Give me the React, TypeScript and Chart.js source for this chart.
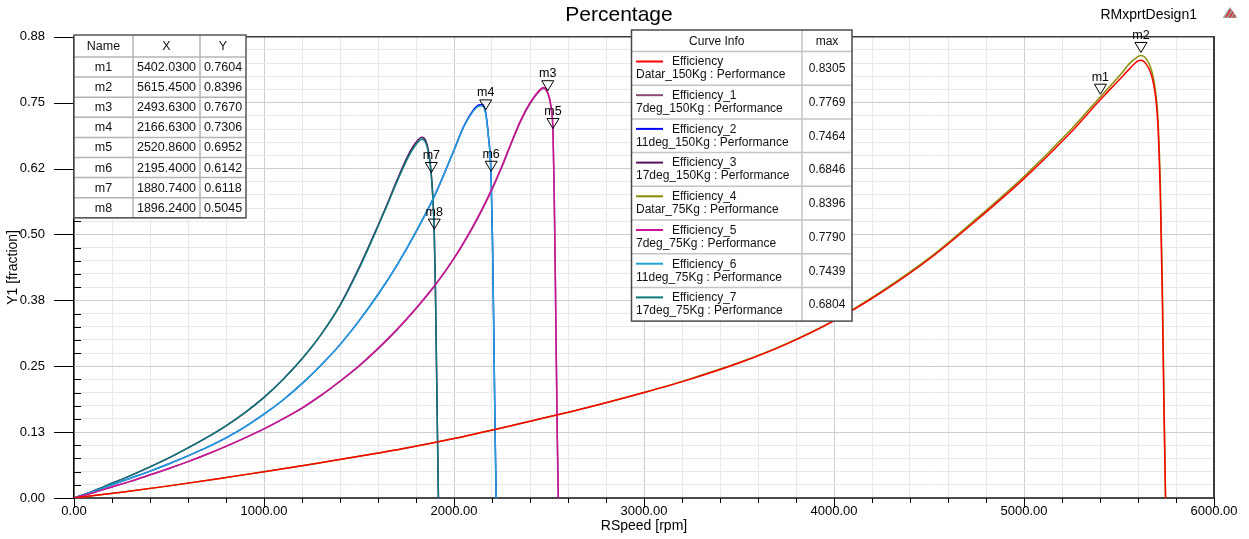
import React, { useEffect, useRef } from 'react';
import { Chart, registerables } from 'chart.js';

Chart.register(...registerables);

const FONT = '"Liberation Sans", Arial, Helvetica, sans-serif';

// ---- texts ----
const chartTitle = 'Percentage';
const designName = 'RMxprtDesign1';
const xAxisTitle = 'RSpeed [rpm]';
const yAxisTitle = 'Y1 [fraction]';
const xTickLabels = ['0.00', '1000.00', '2000.00', '3000.00', '4000.00', '5000.00', '6000.00'];
const yTickLabels = ['0.00', '0.13', '0.25', '0.38', '0.50', '0.62', '0.75', '0.88'];

// ---- series info ----
const seriesNames = ['Efficiency', 'Efficiency_1', 'Efficiency_2', 'Efficiency_3', 'Efficiency_4', 'Efficiency_5', 'Efficiency_6', 'Efficiency_7'];
const seriesSources = [
  'Datar_150Kg : Performance',
  '7deg_150Kg : Performance',
  '11deg_150Kg : Performance',
  '17deg_150Kg : Performance',
  'Datar_75Kg : Performance',
  '7deg_75Kg : Performance',
  '11deg_75Kg : Performance',
  '17deg_75Kg : Performance',
];
const seriesMax = [0.8305, 0.7769, 0.7464, 0.6846, 0.8396, 0.779, 0.7439, 0.6804];
const seriesColors = ['#ff0000', '#8c4a74', '#0000ff', '#5a1060', '#8b8b00', '#cc1199', '#20a4d4', '#0a7a7a'];
const seriesOrder = [1, 2, 2, 2, 2, 1, 1, 1];

// ---- data ----
const rpmDatar = [0, 250, 500, 750, 1000, 1250, 1500, 1750, 2000, 2250, 2500, 2750, 3000, 3250, 3500, 3750, 4000, 4250, 4500, 4750, 5000, 5250, 5400, 5500, 5560, 5600, 5615, 5640, 5670, 5690, 5705, 5718, 5728, 5736, 5745];
const effDatar150 = [0, 0.011, 0.023, 0.036, 0.05, 0.064, 0.079, 0.095, 0.113, 0.133, 0.154, 0.176, 0.2, 0.226, 0.256, 0.292, 0.336, 0.39, 0.453, 0.527, 0.606, 0.695, 0.755, 0.793, 0.816, 0.8295, 0.8305, 0.825, 0.803, 0.768, 0.705, 0.565, 0.38, 0.18, 0];
const effDatar75 = [0, 0.011, 0.023, 0.036, 0.05, 0.064, 0.079, 0.095, 0.113, 0.133, 0.154, 0.176, 0.2, 0.227, 0.257, 0.293, 0.337, 0.392, 0.455, 0.53, 0.61, 0.7, 0.7604, 0.8, 0.826, 0.8375, 0.8396, 0.835, 0.813, 0.778, 0.72, 0.59, 0.41, 0.21, 0];

const rpm7deg = [0, 100, 200, 300, 400, 500, 600, 700, 800, 900, 1000, 1100, 1200, 1300, 1400, 1500, 1600, 1700, 1800, 1900, 2000, 2100, 2150, 2200, 2250, 2300, 2350, 2400, 2440, 2470, 2494, 2510, 2521, 2527, 2533, 2539, 2544, 2549];
const eff7deg150 = [0, 0.01, 0.021, 0.032, 0.044, 0.056, 0.069, 0.083, 0.098, 0.114, 0.131, 0.15, 0.17, 0.194, 0.221, 0.25, 0.283, 0.319, 0.359, 0.403, 0.454, 0.514, 0.548, 0.585, 0.626, 0.671, 0.714, 0.748, 0.768, 0.7769, 0.767, 0.742, 0.6952, 0.585, 0.425, 0.245, 0.105, 0];
const eff7deg75 = [0, 0.01, 0.021, 0.032, 0.044, 0.056, 0.069, 0.083, 0.098, 0.114, 0.131, 0.15, 0.171, 0.195, 0.222, 0.251, 0.284, 0.32, 0.36, 0.404, 0.455, 0.516, 0.55, 0.587, 0.628, 0.673, 0.716, 0.75, 0.77, 0.779, 0.769, 0.745, 0.697, 0.59, 0.43, 0.25, 0.11, 0];

const rpm11deg = [0, 100, 200, 300, 400, 500, 600, 700, 800, 900, 1000, 1100, 1200, 1300, 1400, 1500, 1600, 1700, 1800, 1900, 2000, 2050, 2100, 2130, 2150, 2167, 2180, 2195, 2203, 2210, 2216, 2222];
const eff11deg150 = [0, 0.012, 0.025, 0.038, 0.051, 0.065, 0.08, 0.096, 0.114, 0.135, 0.159, 0.186, 0.217, 0.252, 0.291, 0.336, 0.386, 0.442, 0.505, 0.575, 0.66, 0.704, 0.735, 0.7455, 0.7464, 0.7306, 0.691, 0.6142, 0.481, 0.301, 0.131, 0];
const eff11deg75 = [0, 0.012, 0.025, 0.038, 0.051, 0.065, 0.08, 0.096, 0.114, 0.135, 0.159, 0.186, 0.217, 0.252, 0.291, 0.336, 0.386, 0.442, 0.505, 0.575, 0.66, 0.703, 0.733, 0.743, 0.7439, 0.728, 0.69, 0.612, 0.48, 0.3, 0.13, 0];

const rpm17deg = [0, 100, 200, 300, 400, 500, 600, 700, 800, 900, 1000, 1100, 1200, 1300, 1400, 1500, 1600, 1650, 1700, 1750, 1780, 1810, 1830, 1850, 1865, 1875, 1881, 1890, 1896, 1902, 1908, 1913, 1918];
const eff17deg150 = [0, 0.013, 0.028, 0.043, 0.059, 0.076, 0.095, 0.115, 0.137, 0.162, 0.191, 0.225, 0.264, 0.31, 0.366, 0.437, 0.517, 0.559, 0.603, 0.644, 0.664, 0.679, 0.6846, 0.679, 0.66, 0.636, 0.6118, 0.562, 0.5045, 0.401, 0.251, 0.121, 0];
const eff17deg75 = [0, 0.013, 0.028, 0.043, 0.059, 0.076, 0.095, 0.115, 0.137, 0.162, 0.191, 0.225, 0.264, 0.31, 0.365, 0.435, 0.515, 0.557, 0.6, 0.64, 0.66, 0.675, 0.6804, 0.675, 0.656, 0.632, 0.61, 0.56, 0.503, 0.4, 0.25, 0.12, 0];

// ---- markers ----
const markerNames = ['m1', 'm2', 'm3', 'm4', 'm5', 'm6', 'm7', 'm8'];
const markerX = [5402.03, 5615.45, 2493.63, 2166.63, 2520.86, 2195.4, 1880.74, 1896.24];
const markerY = [0.7604, 0.8396, 0.767, 0.7306, 0.6952, 0.6142, 0.6118, 0.5045];

const pts = (xs: number[], ys: number[]) => xs.map((x, i) => ({ x, y: ys[i] }));
const seriesData = [
  pts(rpmDatar, effDatar150),
  pts(rpm7deg, eff7deg150),
  pts(rpm11deg, eff11deg150),
  pts(rpm17deg, eff17deg150),
  pts(rpmDatar, effDatar75),
  pts(rpm7deg, eff7deg75),
  pts(rpm11deg, eff11deg75),
  pts(rpm17deg, eff17deg75),
];

const font = (size: number) => `${size}px ${FONT}`;

const overlayPlugin = {
  id: 'overlay',
  beforeDraw(chart: any) {
    const { ctx, width, height } = chart;
    ctx.save();
    ctx.fillStyle = '#ffffff';
    ctx.fillRect(0, 0, width, height);
    ctx.restore();
  },
  afterDraw(chart: any) {
    const { ctx, chartArea: a, scales } = chart;
    const xs = scales.x;
    const ys = scales.y;
    ctx.save();

    const line = (x1: number, y1: number, x2: number, y2: number) => {
      ctx.beginPath();
      ctx.moveTo(x1, y1);
      ctx.lineTo(x2, y2);
      ctx.stroke();
    };

    // frame (top and right)
    ctx.strokeStyle = '#3a3a3a';
    ctx.lineWidth = 1.5;
    line(a.left, a.top, a.right, a.top);
    ctx.lineWidth = 2;
    line(a.right, a.top - 0.75, a.right, a.bottom);

    // tick marks
    ctx.strokeStyle = '#000';
    ctx.lineWidth = 1;
    xs.ticks.forEach((t: any, i: number) => {
      const px = Math.round(xs.getPixelForValue(t.value)) + 0.5;
      line(px, a.bottom, px, a.bottom + (i % 5 === 0 ? 10 : 5));
    });
    ys.ticks.forEach((t: any, i: number) => {
      const py = Math.round(ys.getPixelForValue(t.value)) + 0.5;
      if (i % 5 === 0) line(54, py, a.left, py);
      else line(a.left, py, a.left + 7, py);
    });

    // markers
    ctx.font = font(12.5);
    ctx.fillStyle = '#000';
    ctx.textAlign = 'center';
    ctx.textBaseline = 'middle';
    markerNames.forEach((name, i) => {
      const px = xs.getPixelForValue(markerX[i]);
      const py = ys.getPixelForValue(markerY[i]) - 3;
      ctx.beginPath();
      ctx.moveTo(px, py);
      ctx.lineTo(px - 6, py - 10);
      ctx.lineTo(px + 6, py - 10);
      ctx.closePath();
      ctx.strokeStyle = '#000';
      ctx.lineWidth = 1;
      ctx.stroke();
      ctx.fillText(name, px, py - 17);
    });

    // marker table
    {
      const cols = [74, 133, 200, 246];
      const top = 35;
      const headH = 22;
      const rowH = 20.1;
      const bottom = top + headH + rowH * markerNames.length;
      ctx.fillStyle = '#fff';
      ctx.fillRect(cols[0], top, cols[3] - cols[0], bottom - top);
      ctx.strokeStyle = '#b4b4b4';
      ctx.lineWidth = 1.5;
      for (let r = 0; r <= markerNames.length; r++) {
        const y = top + headH + r * rowH;
        line(cols[0], y, cols[3], y);
      }
      line(cols[1], top, cols[1], bottom);
      line(cols[2], top, cols[2], bottom);
      ctx.strokeStyle = '#555';
      ctx.lineWidth = 1.5;
      ctx.strokeRect(cols[0], top, cols[3] - cols[0], bottom - top);
      ctx.fillStyle = '#111';
      ctx.font = font(12.5);
      ctx.textAlign = 'center';
      ctx.textBaseline = 'middle';
      const cx = [(cols[0] + cols[1]) / 2, (cols[1] + cols[2]) / 2, (cols[2] + cols[3]) / 2];
      ['Name', 'X', 'Y'].forEach((h, j) => ctx.fillText(h, cx[j], top + headH / 2 + 0.5));
      markerNames.forEach((n, i) => {
        const y = top + headH + rowH * i + rowH / 2 + 0.5;
        ctx.fillText(n, cx[0], y);
        ctx.fillText(markerX[i].toFixed(4), cx[1], y);
        ctx.fillText(markerY[i].toFixed(4), cx[2], y);
      });
    }

    // legend table
    {
      const left = 631.5;
      const split = 802;
      const right = 852;
      const top = 30;
      const headB = 51.5;
      const rowH = 33.7;
      const bottom = headB + rowH * seriesNames.length;
      ctx.fillStyle = '#fff';
      ctx.fillRect(left, top, right - left, bottom - top);
      ctx.strokeStyle = '#c4c4c4';
      ctx.lineWidth = 1.5;
      for (let r = 0; r < seriesNames.length; r++) {
        const y = headB + r * rowH;
        line(left, y, right, y);
      }
      line(split, top, split, bottom);
      ctx.strokeStyle = '#4a4a4a';
      ctx.lineWidth = 1.5;
      ctx.strokeRect(left, top, right - left, bottom - top);
      ctx.font = font(12);
      ctx.fillStyle = '#111';
      ctx.textBaseline = 'middle';
      ctx.textAlign = 'center';
      ctx.fillText('Curve Info', (left + split) / 2, (top + headB) / 2 + 1);
      ctx.fillText('max', (split + right) / 2, (top + headB) / 2 + 1);
      seriesNames.forEach((n, i) => {
        const rt = headB + rowH * i;
        ctx.strokeStyle = seriesColors[i];
        ctx.lineWidth = 2;
        line(636, rt + 10, 663, rt + 10);
        ctx.fillStyle = '#111';
        ctx.textAlign = 'left';
        ctx.fillText(n, 672, rt + 10.5);
        ctx.fillText(seriesSources[i], 636, rt + 23.5);
        ctx.textAlign = 'center';
        ctx.fillText(seriesMax[i].toFixed(4), (split + right) / 2, rt + 17.5);
      });
    }

    // titles
    ctx.fillStyle = '#000';
    ctx.textBaseline = 'alphabetic';
    ctx.textAlign = 'center';
    ctx.font = font(21);
    ctx.fillText(chartTitle, 619, 21);
    ctx.textAlign = 'left';
    ctx.font = font(14);
    ctx.fillText(designName, 1100.5, 18.5);

    // logo
    ctx.beginPath();
    ctx.moveTo(1230, 7);
    ctx.lineTo(1237.5, 18);
    ctx.lineTo(1222.5, 18);
    ctx.closePath();
    ctx.fillStyle = '#a0a0a0';
    ctx.fill();
    ctx.strokeStyle = '#d83030';
    ctx.lineWidth = 1.5;
    line(1226, 17, 1230.5, 9.5);
    line(1229.5, 17.5, 1233, 12);
    line(1233, 17.5, 1235, 15);

    ctx.restore();
  },
};

export default function App() {
  const ref = useRef<HTMLCanvasElement>(null);

  useEffect(() => {
    if (!ref.current) return;
    Chart.defaults.font.family = FONT;
    const chart = new Chart(ref.current, {
      type: 'line',
      data: {
        datasets: seriesData.map((d, i) => ({
          label: seriesNames[i],
          data: d,
          borderColor: seriesColors[i],
          backgroundColor: seriesColors[i],
          borderWidth: 1.5,
          pointRadius: 0,
          fill: false,
          cubicInterpolationMode: 'monotone' as const,
          order: seriesOrder[i],
        })),
      },
      options: {
        animation: false,
        responsive: false,
        devicePixelRatio: 1,
        layout: { padding: { left: 0, right: 35, top: 32, bottom: 0 } },
        plugins: {
          legend: { display: false },
          tooltip: { enabled: false },
          title: { display: false },
        },
        scales: {
          x: {
            type: 'linear',
            min: 0,
            max: 6000,
            ticks: {
              stepSize: 200,
              autoSkip: false,
              maxRotation: 0,
              padding: 6,
              color: '#000',
              font: { size: 13, family: FONT },
              callback: (_v: any, i: number) => (i % 5 === 0 ? xTickLabels[i / 5] : ''),
            },
            grid: {
              drawTicks: false,
              lineWidth: 1,
              color: (c: any) => (c.index % 5 === 0 ? '#cdcdcd' : '#e9e9e9'),
            },
            border: { display: true, color: '#4a4a4a', width: 2 },
            title: {
              display: true,
              text: xAxisTitle,
              color: '#000',
              font: { size: 14, family: FONT },
              padding: { top: 0, bottom: 4 },
            },
            afterFit: (s: any) => {
              s.height = 41;
            },
          },
          y: {
            type: 'linear',
            min: 0,
            max: 0.875,
            ticks: {
              stepSize: 0.025,
              autoSkip: false,
              padding: 29,
              color: '#000',
              font: { size: 13, family: FONT },
              callback: (_v: any, i: number) => (i % 5 === 0 ? yTickLabels[i / 5] : ''),
            },
            grid: {
              drawTicks: false,
              lineWidth: 1,
              color: (c: any) => (c.index % 5 === 0 ? '#cdcdcd' : '#e9e9e9'),
            },
            border: { display: true, color: '#000', width: 1.5 },
            title: {
              display: true,
              text: yAxisTitle,
              color: '#000',
              font: { size: 14, family: FONT },
              padding: { top: 5, bottom: 0 },
            },
            afterFit: (s: any) => {
              s.width = 74;
            },
          },
        },
      } as any,
      plugins: [overlayPlugin],
    });
    return () => chart.destroy();
  }, []);

  return (
    <div style={{ position: 'absolute', left: 0, top: 0, width: 1249, height: 539, background: '#fff' }}>
      <canvas ref={ref} width={1249} height={539} style={{ display: 'block', width: 1249, height: 539 }} />
    </div>
  );
}
